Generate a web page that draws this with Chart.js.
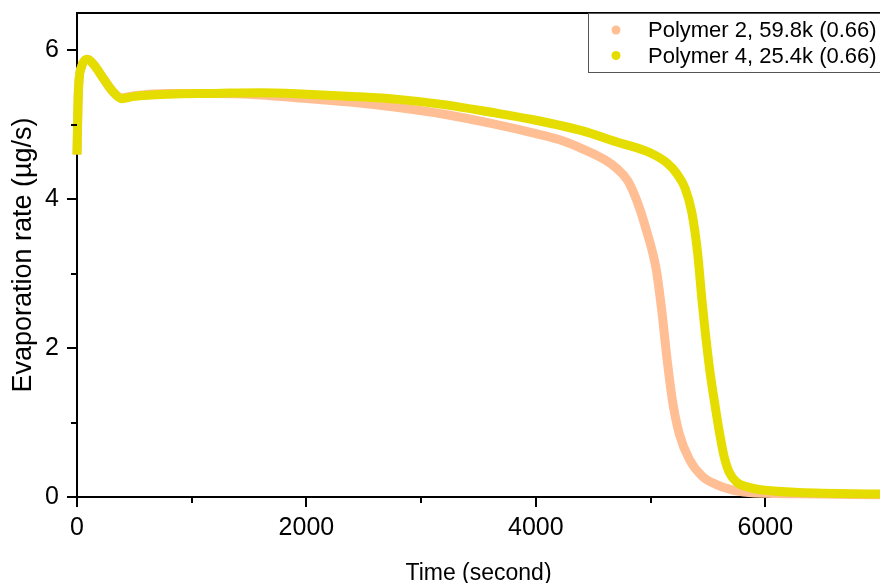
<!DOCTYPE html>
<html>
<head>
<meta charset="utf-8">
<script src="https://cdn.jsdelivr.net/npm/chart.js@4"></script>
<style>
  html, body { margin: 0; padding: 0; background: #fff; }
  #wrap { width: 880px; height: 583px; }
</style>
</head>
<body>
<div id="wrap"><canvas id="myChart"></canvas></div>
<script>
// series labels
const seriesNames = ['Polymer 2, 59.8k (0.66)', 'Polymer 4, 25.4k (0.66)'];

// Polymer 2 (time in s, rate in ug/s)
const timeP2 = [0, 12, 40, 90, 150, 230, 310, 390, 500, 800, 1200, 1600, 2000, 2400, 2800, 3200, 3600, 4000, 4200, 4400, 4600, 4700, 4800, 4880, 4960, 5050, 5100, 5140, 5190, 5250, 5340, 5450, 5570, 5700, 5860, 6000, 6500, 7000];
const rateP2 = [4.6, 5.45, 5.78, 5.88, 5.80, 5.62, 5.45, 5.36, 5.39, 5.42, 5.42, 5.40, 5.35, 5.30, 5.23, 5.14, 5.02, 4.88, 4.80, 4.68, 4.53, 4.42, 4.25, 3.98, 3.60, 3.05, 2.47, 1.90, 1.30, 0.85, 0.50, 0.28, 0.17, 0.10, 0.06, 0.05, 0.04, 0.03];

// Polymer 4
const timeP4 = [0, 12, 40, 90, 150, 230, 310, 390, 500, 800, 1200, 1600, 2000, 2400, 2800, 3200, 3600, 4000, 4400, 4700, 5000, 5140, 5225, 5300, 5360, 5410, 5450, 5512, 5560, 5600, 5640, 5686, 5750, 5860, 6000, 6300, 7000];
const rateP4 = [4.6, 5.45, 5.78, 5.88, 5.80, 5.62, 5.45, 5.35, 5.38, 5.41, 5.42, 5.43, 5.41, 5.38, 5.34, 5.27, 5.17, 5.06, 4.92, 4.77, 4.62, 4.49, 4.35, 4.15, 3.82, 3.28, 2.61, 1.75, 1.25, 0.87, 0.55, 0.33, 0.20, 0.13, 0.09, 0.06, 0.04];

// axis ticks
const xTicks = [0, 2000, 4000, 6000];
const xMinor = [1000, 3000, 5000];
const yTicks = [0, 2, 4, 6];
const yMinor = [1, 3, 5];

const colP2 = 'rgb(255, 190, 148)';
const colP4 = 'rgb(230, 221, 0)';

function toPoints(xs, ys) {
    return xs.map((x, i) => ({ x: x, y: ys[i] }));
}

// frame top line, minor ticks, boxed legend
const extras = {
    id: 'extras',
    afterDraw(chart) {
        const c = chart.ctx;
        const a = chart.chartArea;
        const sx = chart.scales.x, sy = chart.scales.y;
        c.save();
        c.strokeStyle = '#000';
        c.lineWidth = 2;
        c.beginPath();
        c.moveTo(a.left - 1, a.top);
        c.lineTo(a.right + 2, a.top);
        xMinor.forEach(v => {
            const px = Math.round(sx.getPixelForValue(v));
            c.moveTo(px, a.bottom);
            c.lineTo(px, a.bottom + 6);
        });
        yMinor.forEach(v => {
            const py = Math.round(sy.getPixelForValue(v));
            c.moveTo(a.left, py);
            c.lineTo(a.left - 6, py);
        });
        c.stroke();

        // legend box
        c.lineWidth = 1;
        c.strokeStyle = '#555';
        c.strokeRect(588.5, a.top + 0.5, 300, 59);
        c.font = '22px "Liberation Sans", Arial, sans-serif';
        c.textBaseline = 'middle';
        c.fillStyle = '#000';
        const rows = [a.top + 17, a.top + 42.5];
        chart.data.datasets.forEach((ds, i) => {
            c.beginPath();
            c.fillStyle = ds.borderColor;
            c.arc(616, rows[i], 4.5, 0, Math.PI * 2);
            c.fill();
            c.fillStyle = '#000';
            c.fillText(ds.label, 648, rows[i] + 1);
        });
        c.restore();
    }
};

const ctx = document.getElementById('myChart').getContext('2d');
const tickFont = { family: '"Liberation Sans", Arial, sans-serif', size: 25 };

new Chart(ctx, {
    type: 'line',
    data: {
        datasets: [{
            label: seriesNames[0],
            data: toPoints(timeP2, rateP2),
            borderColor: colP2,
            backgroundColor: colP2,
            borderWidth: 9,
            pointRadius: 0,
            cubicInterpolationMode: 'monotone',
            clip: 8,
            order: 2
        }, {
            label: seriesNames[1],
            data: toPoints(timeP4, rateP4),
            borderColor: colP4,
            backgroundColor: colP4,
            borderWidth: 9,
            pointRadius: 0,
            cubicInterpolationMode: 'monotone',
            clip: 8,
            order: 1
        }]
    },
    options: {
        responsive: true,
        maintainAspectRatio: false,
        animation: false,
        layout: { padding: { top: 13, right: 0, left: 0, bottom: 0 } },
        plugins: {
            legend: { display: false },
            tooltip: { enabled: false }
        },
        scales: {
            x: {
                type: 'linear',
                min: 0,
                max: 7000,
                afterFit: s => { s.height = 86; s.paddingLeft = 0; s.paddingRight = 0; },
                afterBuildTicks: s => { s.ticks = xTicks.map(v => ({ value: v })); },
                border: { color: '#000', width: 2 },
                grid: { drawOnChartArea: false, color: '#000', lineWidth: 2, tickLength: 10 },
                ticks: { color: '#000', font: tickFont, padding: 6, maxRotation: 0, callback: v => String(v) },
                title: {
                    display: true,
                    text: 'Time (second)',
                    color: '#000',
                    font: { family: '"Liberation Sans", Arial, sans-serif', size: 23 },
                    padding: { top: 0, bottom: -4 }
                }
            },
            y: {
                min: 0,
                max: 6.5,
                afterFit: s => { s.width = 77; s.paddingTop = 0; s.paddingBottom = 0; },
                afterBuildTicks: s => { s.ticks = yTicks.map(v => ({ value: v })); },
                border: { color: '#000', width: 2 },
                grid: { drawOnChartArea: false, color: '#000', lineWidth: 2, tickLength: 10 },
                ticks: { color: '#000', font: tickFont, padding: 8, callback: v => String(v) },
                title: {
                    display: true,
                    text: 'Evaporation rate (µg/s)',
                    color: '#000',
                    font: { family: '"Liberation Sans", Arial, sans-serif', size: 27 },
                    padding: { top: 7, bottom: 0 }
                }
            }
        }
    },
    plugins: [extras]
});
</script>
</body>
</html>
